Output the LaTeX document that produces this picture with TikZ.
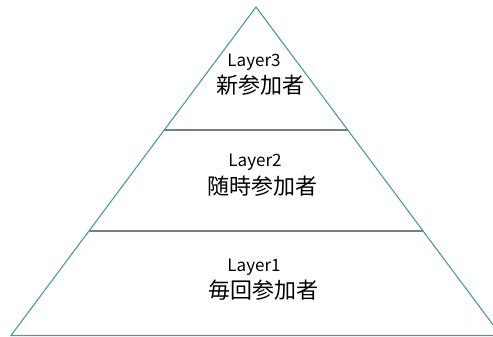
\documentclass[tikz,border=0pt]{standalone}
\usepackage{fontspec}
\newfontfamily\jp{Noto Sans CJK JP}
\definecolor{edgecol}{HTML}{4E97A4}
\definecolor{divcol}{HTML}{6E8091}
\begin{document}
\begin{tikzpicture}[x=1pt,y=-1pt,
  tri/.style={draw=edgecol,line width=1.1pt,line join=miter},
  divider/.style={draw=divcol,line width=2pt},
  layerlbl/.style={inner sep=0pt,font=\jp\fontsize{17}{20}\selectfont,anchor=center},
  grouplbl/.style={inner sep=0pt,font=\jp\fontsize{22}{26}\selectfont,anchor=center}]
\useasboundingbox (0,0) rectangle (493,337);
\clip (0,0) rectangle (493,337);
\coordinate (apex) at (256,7);
\coordinate (bl) at (11,335.5);
\coordinate (br) at (501,335.5);
\draw[tri] (apex) -- (bl) -- (br) -- cycle;
\path (apex) -- (bl) coordinate[pos=0.3746] (d1l);
\path (apex) -- (br) coordinate[pos=0.3746] (d1r);
\path (apex) -- (bl) coordinate[pos=0.6804] (d2l);
\path (apex) -- (br) coordinate[pos=0.6804] (d2r);
\draw[divider] (d1l) -- (d1r);
\draw[divider] (d2l) -- (d2r);
\node[layerlbl] (l3) at (254,62) {Layer3};
\node[grouplbl] (g3) at (260,85) {新参加者};
\node[layerlbl] (l2) at (255,162) {Layer2};
\node[grouplbl] (g2) at (262.5,186) {随時参加者};
\node[layerlbl] (l1) at (254,267) {Layer1};
\node[grouplbl] (g1) at (263,290) {毎回参加者};
\end{tikzpicture}
\end{document}
